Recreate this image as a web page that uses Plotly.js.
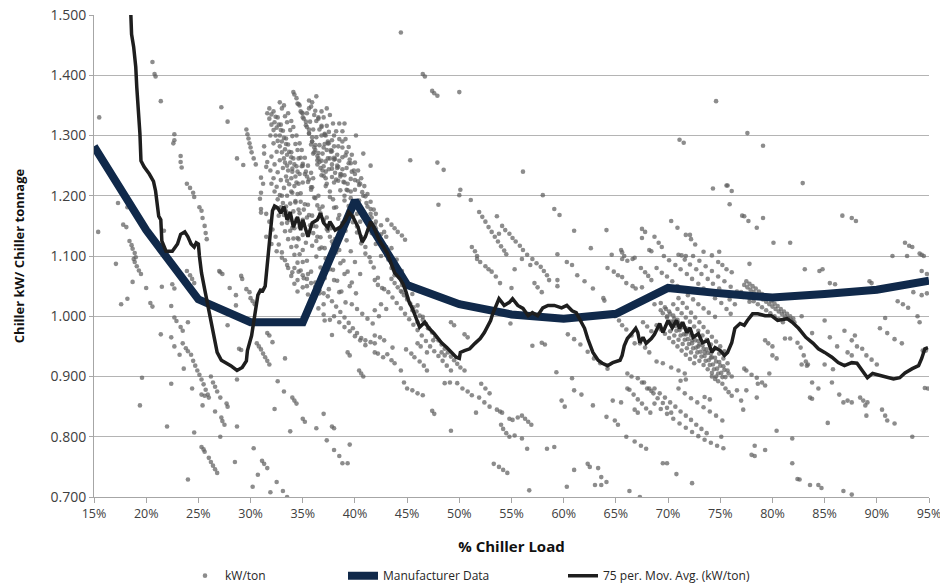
<!DOCTYPE html>
<html><head><meta charset="utf-8">
<script src="https://cdn.plot.ly/plotly-3.0.1.min.js"></script>
<style>html,body{margin:0;padding:0;background:#fff}#chart{width:940px;height:585px}</style>
</head><body><div id="chart"></div>
<script>
// ---- kW/ton scatter, [% chiller load, kW/ton] ----
const kwLow = [
[15.5,1.330],[15.4,1.140],[17.3,1.188],[18.2,1.181],[17.8,1.152],[18.1,1.148],[18.4,1.125],[18.6,1.118],[18.7,1.112],[18.9,1.105],[19.0,1.098],
[20.6,1.422],[20.8,1.402],[20.9,1.398],[21.4,1.357],[22.7,1.302],[22.7,1.292],[22.6,1.287],[23.3,1.266],[23.3,1.256],[23.4,1.247],[23.9,1.220],[24.2,1.213],[24.5,1.205],[24.6,1.198],[25.1,1.181],[25.3,1.175],[25.4,1.163],[25.6,1.150],[25.7,1.138],[25.8,1.128],[21.7,1.142],
[17.1,1.087],[18.8,1.095],[18.9,1.090],[19.1,1.083],[19.3,1.076],[19.5,1.070],[18.7,1.057],[20.0,1.047],[18.2,1.029],[17.6,1.020],[20.4,1.022],[20.6,1.016],[21.5,1.049],[22.5,1.053],[22.7,1.046],[22.4,1.017],[22.7,0.998],[22.9,0.992],[23.3,0.982],[23.5,0.976],[24.0,0.990],[21.4,0.970],[22.4,0.965],[22.7,0.950],[23.5,0.955],[23.8,0.947],[24.0,0.942],[24.3,0.936],[23.2,0.936],[23.6,0.913],[24.5,0.926],[24.7,0.918],[24.9,0.910],[25.1,0.903],[25.3,0.895],[25.5,0.887],[25.7,0.878],[25.9,0.870],[26.0,0.865],[24.4,0.880],[25.3,0.870],[25.6,0.868],[22.4,0.888],[19.6,0.898],[19.4,0.852],[22.0,0.817],[26.2,0.900],[26.4,0.890],[26.6,0.883],[26.8,0.875],[27.1,0.865],[25.4,0.852],[26.6,0.842],[27.7,0.855],[27.8,0.850],[27.2,0.832],[27.3,0.826],[27.5,0.820],[28.7,0.817],[24.6,0.807],[27.1,0.800],[25.3,0.783],[25.5,0.779],[25.6,0.775],[26.0,0.765],[26.2,0.758],[26.4,0.752],[26.6,0.746],[26.8,0.740],[24.0,0.729],[28.5,0.758],[30.3,0.781],[30.7,0.737],[30.2,0.717],
[23.9,1.075],[24.2,1.068],[24.4,1.062],[24.6,1.055],
[27.0,1.075],[27.1,1.073],[27.3,1.070],[29.1,1.067],[29.2,1.062],[28.0,1.047],[29.6,1.045],[29.9,1.040],[28.6,1.035],[28.6,1.018],[30.0,1.030],[30.2,1.025],[30.4,1.020],[27.8,0.985],[28.9,0.946],[29.1,0.944],[28.7,0.895],[30.6,0.955],[30.8,0.950],[31.0,0.945],
[27.2,1.347],[27.8,1.323],[29.6,1.310],[29.7,1.302],[29.8,1.295],[29.9,1.287],[30.0,1.280],[30.1,1.272],[30.3,1.262],[30.5,1.252],[28.7,1.262],[29.3,1.251],[31.3,1.282],[31.5,1.248],[31.0,1.230],[31.2,1.220],[31.0,1.205],[30.9,1.195],[31.0,1.178],[31.0,1.172]
];
const kwCluster = [
[31.6,1.337],[31.8,1.328],[32.0,1.318],[32.2,1.309],[32.4,1.300],[32.6,1.291],[32.8,1.282],[33.0,1.272],[33.2,1.262],[33.5,1.250],
[32.2,1.340],[32.4,1.331],[32.7,1.318],[32.9,1.309],[33.2,1.296],[33.4,1.286],[33.7,1.273],[33.9,1.264],[34.2,1.252],[34.5,1.240],
[32.6,1.330],[32.9,1.318],[33.1,1.308],[33.4,1.295],[33.6,1.285],[33.9,1.272],[34.1,1.262],[34.4,1.249],[34.7,1.236],[35.0,1.222],
[33.6,1.337],[33.9,1.324],[34.1,1.314],[34.4,1.300],[34.7,1.287],[34.9,1.276],[35.2,1.263],[35.5,1.250],[35.8,1.238],[36.0,1.229],
[34.1,1.372],[34.2,1.368],[34.5,1.353],[34.8,1.340],[35.0,1.330],[35.3,1.317],[35.6,1.303],[35.9,1.290],[36.2,1.276],[36.5,1.262],
[34.7,1.350],[35.0,1.337],[35.3,1.323],[35.6,1.310],[35.9,1.297],[36.2,1.284],[36.5,1.271],[36.8,1.258],[37.0,1.249],[37.2,1.240],
[35.4,1.337],[35.7,1.323],[36.0,1.310],[36.3,1.297],[36.6,1.284],[36.9,1.270],[37.2,1.257],[37.5,1.244],[37.8,1.231],[38.0,1.222],
[35.9,1.355],[36.2,1.341],[36.5,1.328],[36.8,1.314],[37.1,1.301],[37.4,1.287],[37.7,1.273],[38.0,1.260],[38.3,1.246],[38.6,1.232],
[36.5,1.330],[36.8,1.316],[37.1,1.303],[37.4,1.290],[37.7,1.276],[38.0,1.263],[38.3,1.250],[38.6,1.236],[38.9,1.223],[39.2,1.210],
[37.3,1.345],[37.6,1.334],[37.9,1.320],[38.2,1.307],[38.5,1.294],[38.8,1.280],[39.1,1.267],[39.4,1.254],[39.7,1.240],[40.0,1.226],
[31.9,1.300],[32.2,1.287],[32.5,1.273],[32.8,1.259],[33.1,1.246],[33.4,1.232],[33.7,1.219],[34.0,1.205],[34.3,1.191],[34.6,1.177],[35.0,1.160],
[31.3,1.270],[31.6,1.256],[31.9,1.242],[32.2,1.229],[32.5,1.215],[32.8,1.201],[33.1,1.188],[33.4,1.174],[33.7,1.160],[34.0,1.147],[34.5,1.130],
[32.0,1.220],[32.3,1.207],[32.6,1.194],[32.9,1.181],[33.2,1.168],[33.5,1.155],[33.8,1.142],[34.1,1.129],[34.4,1.116],[34.7,1.103],[35.0,1.090],[35.5,1.070],
[31.5,1.170],[31.8,1.157],[32.1,1.144],[32.4,1.132],[32.7,1.119],[33.0,1.106],[33.3,1.093],[33.6,1.080],[33.9,1.067],[34.2,1.054],[34.5,1.041],
[33.0,1.200],[33.4,1.182],[33.8,1.164],[34.2,1.146],[34.6,1.128],[35.0,1.110],[35.4,1.092],[35.8,1.074],[36.2,1.056],[36.6,1.038],[37.0,1.020],
[34.0,1.240],[34.4,1.222],[34.8,1.204],[35.2,1.186],[35.6,1.168],[36.0,1.150],[36.4,1.132],[36.8,1.114],[37.2,1.096],[37.6,1.078],[38.0,1.060],[38.5,1.040],
[35.0,1.250],[35.4,1.232],[35.8,1.214],[36.2,1.196],[36.6,1.178],[37.0,1.160],[37.4,1.142],[37.8,1.124],[38.2,1.106],[38.6,1.088],[39.0,1.070],[39.5,1.050],
[36.0,1.270],[36.4,1.252],[36.8,1.234],[37.2,1.216],[37.6,1.198],[38.0,1.180],[38.4,1.162],[38.8,1.144],[39.2,1.126],[39.6,1.108],[40.0,1.090],[40.5,1.070],
[37.0,1.280],[37.4,1.262],[37.8,1.245],[38.2,1.227],[38.6,1.209],[39.0,1.192],[39.4,1.174],[39.8,1.156],[40.2,1.139],[40.6,1.121],[41.0,1.104],[41.5,1.090],
[38.0,1.300],[38.4,1.282],[38.8,1.264],[39.2,1.246],[39.6,1.228],[40.0,1.210],[40.4,1.192],[40.8,1.174],[41.2,1.156],[41.6,1.138],[42.0,1.120],[42.5,1.100],
[38.8,1.290],[39.2,1.272],[39.6,1.254],[40.0,1.236],[40.4,1.218],[40.8,1.200],[41.2,1.182],[41.6,1.164],[42.0,1.146],[42.5,1.124],[43.0,1.102],[43.5,1.080],
[39.5,1.260],[39.9,1.242],[40.3,1.224],[40.7,1.206],[41.1,1.188],[41.5,1.170],[41.9,1.152],[42.3,1.134],[42.7,1.116],[43.2,1.094],[43.8,1.068],[44.5,1.040],
[40.5,1.220],[41.0,1.199],[41.5,1.178],[42.0,1.157],[42.5,1.136],[43.0,1.115],[43.5,1.094],[44.0,1.073],[44.5,1.052],[45.0,1.031],[45.5,1.010],[46.0,0.990],
[42.0,1.170],[42.5,1.151],[43.0,1.132],[43.5,1.113],[44.0,1.094],[44.5,1.075],[45.0,1.056],[45.5,1.037],[46.0,1.018],[46.5,0.999],[47.0,0.980],[47.5,0.960],
[43.5,1.062],[43.8,1.055],[44.1,1.048],[44.4,1.042],[44.7,1.035],[45.0,1.028],[45.3,1.021],[45.6,1.015],[45.9,1.008],[46.2,1.001],[46.5,0.994],[46.8,0.987],[47.1,0.980],[47.4,0.973],[47.7,0.966],[48.0,0.960],[48.3,0.953],[48.6,0.946],[48.9,0.940],[49.2,0.933],[49.5,0.927],[49.8,0.921],[50.1,0.915],[50.5,0.910],
[43.2,1.040],[43.6,1.031],[44.0,1.022],[44.4,1.013],[44.8,1.004],[45.2,0.995],[45.6,0.986],[46.0,0.977],[46.4,0.968],[46.8,0.959],[47.2,0.950],[47.6,0.942],[48.0,0.934],[48.4,0.926],[48.8,0.918],[49.2,0.910],
[34.2,1.080],[34.6,1.074],[35.0,1.068],[35.4,1.062],[35.8,1.055],[36.2,1.049],[36.6,1.043],[37.0,1.038],[37.4,1.033],[37.8,1.025],[38.2,1.016],[38.6,1.007],[39.0,0.998],[39.4,0.989],[39.8,0.980],[40.2,0.972],[40.6,0.964],[41.0,0.960],[41.5,0.957],[41.9,0.955],
[31.5,1.132],[32.0,1.120],[32.5,1.108],[33.0,1.097],[33.5,1.085],[34.0,1.073],[34.5,1.060],[35.0,1.048],[35.5,1.036],[36.0,1.024],[36.5,1.013],[37.0,1.003],[37.6,0.994],
[38.0,1.000],[38.5,0.990],[39.0,0.982],[39.5,0.975],[40.0,0.967],[40.5,0.960],[41.0,0.952],[39.7,1.020],[40.2,1.012],[40.7,1.004],[41.2,0.996],[41.7,0.988],
[36.3,1.365],[33.2,1.350],[32.8,1.355],[35.6,1.345],[39.0,1.320],[40.1,1.300],[40.8,1.270],[41.5,1.250],
[43.1,1.160],[43.5,1.152],[43.8,1.146],[44.1,1.140],[44.5,1.134],[44.8,1.127],[42.8,1.140],[45.3,1.259],[47.9,1.255],[48.5,1.243],[48.0,1.185],[50.1,1.210],[50.0,1.201],[51.1,1.193],
[44.4,1.471],[46.5,1.402],[46.7,1.398],[47.4,1.374],[47.6,1.370],[47.9,1.366],[50.0,1.372],
[41.9,1.060],[42.2,1.052],[42.8,1.045],[42.5,1.020],[43.0,1.012],[41.9,1.010],[42.3,1.000],
[41.9,0.940],[42.2,0.938],[42.7,0.932],[43.1,0.937],[43.5,0.927],[43.8,0.922],[44.4,0.910],
[44.9,0.945],[45.4,0.938],[45.7,0.932],[46.2,0.925],[46.6,0.918],[46.9,0.910],
[41.9,0.968],[42.4,0.965],[42.8,0.960],[43.6,0.948],[46.0,0.955],[46.3,0.950],[46.9,0.940],[48.3,0.940],[48.6,0.935],
[44.7,0.890],[45.0,0.880],[45.5,0.877],[46.0,0.872],[46.5,0.869],[47.4,0.843],[47.6,0.838],[49.2,0.810],
[48.6,0.889],[49.1,0.890],[49.8,0.889],[49.2,0.990],[49.5,0.985],
[31.2,0.938],[31.4,0.932],[31.6,0.926],[31.8,0.920],[31.6,0.972],[31.8,0.968],[32.1,0.957],[33.3,0.930],[32.6,0.892],[33.2,0.875],[34.0,0.865],[34.2,0.860],[34.4,0.855],[32.3,0.846],[35.0,0.830],[35.2,0.825],[33.8,0.809],[36.3,0.814],[37.0,0.838],[37.8,0.817],[38.0,0.814],[37.3,0.794],[38.0,0.778],[38.5,0.768],[38.8,0.756],[39.3,0.756],[39.5,0.787],[37.1,0.993],[37.8,0.969],[39.3,0.940],[39.5,0.935],[40.4,0.910],[40.6,0.905],[40.8,0.900],[31.1,0.760],[31.3,0.755],[31.6,0.748],[31.9,0.708],[32.5,0.725],[33.1,0.710],[33.5,0.700]
];
const kwClusterFill = [
[31.8,1.345],[32.0,1.335],[32.3,1.322],[32.5,1.313],[32.8,1.300],[33.0,1.290],[33.3,1.277],[33.5,1.268],[33.8,1.255],[34.0,1.245],[34.3,1.232],[34.6,1.220],
[33.0,1.345],[33.3,1.332],[33.5,1.322],[33.8,1.309],[34.0,1.299],[34.3,1.286],[34.5,1.276],[34.8,1.263],[35.0,1.253],[35.3,1.240],[35.6,1.227],[35.9,1.214],
[34.4,1.362],[34.6,1.352],[34.9,1.338],[35.1,1.328],[35.4,1.314],[35.6,1.304],[35.9,1.290],[36.1,1.280],[36.4,1.266],[36.6,1.256],[36.9,1.242],[37.2,1.229],
[35.6,1.358],[35.8,1.348],[36.1,1.334],[36.3,1.324],[36.6,1.310],[36.8,1.300],[37.1,1.286],[37.3,1.276],[37.6,1.262],[37.8,1.252],[38.1,1.238],[38.4,1.225],
[36.8,1.340],[37.0,1.330],[37.3,1.316],[37.5,1.306],[37.8,1.292],[38.0,1.282],[38.3,1.268],[38.5,1.258],[38.8,1.244],[39.0,1.234],[39.3,1.220],[39.6,1.207],
[32.0,1.265],[32.3,1.252],[32.6,1.239],[32.9,1.226],[33.2,1.213],[33.5,1.200],[33.8,1.187],[34.1,1.174],[34.4,1.161],[34.7,1.148],[35.0,1.135],[35.3,1.122],
[33.3,1.255],[33.6,1.242],[33.9,1.229],[34.2,1.216],[34.5,1.203],[34.8,1.190],[35.1,1.177],[35.4,1.164],[35.7,1.151],[36.0,1.138],[36.3,1.125],[36.6,1.112],
[34.6,1.262],[34.9,1.249],[35.2,1.236],[35.5,1.223],[35.8,1.210],[36.1,1.197],[36.4,1.184],[36.7,1.171],[37.0,1.158],[37.3,1.145],[37.6,1.132],[37.9,1.119],
[35.8,1.285],[36.1,1.272],[36.4,1.259],[36.7,1.246],[37.0,1.233],[37.3,1.220],[37.6,1.207],[37.9,1.194],[38.2,1.181],[38.5,1.168],[38.8,1.155],[39.1,1.142],
[37.2,1.300],[37.5,1.287],[37.8,1.274],[38.1,1.261],[38.4,1.248],[38.7,1.235],[39.0,1.222],[39.3,1.209],[39.6,1.196],[39.9,1.183],[40.2,1.170],[40.5,1.157],
[32.4,1.180],[32.7,1.167],[33.0,1.154],[33.3,1.141],[33.6,1.128],[33.9,1.115],[34.2,1.102],[34.5,1.089],[34.8,1.076],[35.1,1.063],[35.4,1.050],
[33.5,1.225],[33.9,1.207],[34.3,1.189],[34.7,1.171],[35.1,1.153],[35.5,1.135],[35.9,1.117],[36.3,1.099],[36.7,1.081],[37.1,1.063],[37.5,1.045],
[38.5,1.320],[38.8,1.307],[39.1,1.294],[39.4,1.281],[39.7,1.268],[40.0,1.255],[40.3,1.242],[40.6,1.229],[40.9,1.216],[41.2,1.203],[41.5,1.190],[41.8,1.177],
[39.0,1.200],[39.4,1.183],[39.8,1.166],[40.2,1.149],[40.6,1.132],[41.0,1.115],[41.4,1.098],[41.8,1.081],[42.2,1.064],[42.6,1.047],
[36.5,1.200],[36.9,1.182],[37.3,1.164],[37.7,1.146],[38.1,1.128],[38.5,1.110],[38.9,1.092],[39.3,1.074],[39.7,1.056],[40.1,1.038],
[35.5,1.185],[35.9,1.167],[36.3,1.149],[36.7,1.131],[37.1,1.113],[37.5,1.095],[37.9,1.077],[38.3,1.059],[38.7,1.041],[39.1,1.023]
];
const kwMid = [
[50.3,0.880],[50.8,0.875],[51.2,0.869],[52.1,0.888],[52.5,0.880],[52.9,0.872],[51.9,0.865],[52.4,0.857],[52.9,0.850],[51.6,0.840],[53.6,0.845],[53.9,0.842],[54.1,0.840],[54.0,0.820],[54.2,0.813],[54.5,0.806],[54.8,0.830],[55.1,0.828],[55.6,0.832],[56.0,0.835],[56.3,0.830],[56.6,0.825],[56.9,0.820],[54.8,0.800],[55.3,0.802],[56.0,0.797],[56.5,0.780],[58.4,0.780],[59.1,0.783],[53.3,0.755],[53.8,0.750],[54.2,0.745],[54.6,0.740],[56.7,0.711],[60.3,0.717],[61.0,0.745],[62.3,0.755],[62.5,0.750],[63.3,0.748],[63.6,0.733],[63.0,0.720],[63.6,0.720],[64.1,0.725],[66.3,0.710],[67.3,0.700],[59.8,0.860],[60.1,0.850],[61.0,0.877],[61.7,0.870],[62.8,0.852],[64.1,0.833],[64.9,0.827],[65.2,0.820],[64.7,0.860],[65.5,0.857],[66.0,0.800],[66.8,0.792],[67.4,0.785],[67.9,0.780],[60.8,0.897],[59.3,0.907],[66.1,0.905],[66.5,0.900],[67.1,0.897],[67.5,0.890],[68.0,0.880],[68.4,0.876],[66.8,0.845],[67.1,0.840],[66.1,0.880],
[50.5,0.970],[50.8,0.965],[57.0,0.951],[57.9,0.956],[58.2,0.953],[54.9,0.988],
[51.9,1.173],[52.2,1.165],[52.5,1.157],[52.8,1.148],[53.1,1.140],[53.4,1.132],[53.7,1.124],[54.0,1.116],[54.3,1.109],[54.5,1.103],
[54.1,1.150],[54.4,1.143],[54.8,1.137],[55.1,1.130],[55.4,1.124],[55.8,1.117],[56.1,1.110],[56.5,1.102],
[53.6,1.166],[53.8,1.137],[51.2,1.115],[51.5,1.108],[51.7,1.100],
[56.1,1.240],[58.0,1.201],[59.1,1.178],[59.6,1.168],[61.0,1.142],[64.1,1.143],[62.6,1.113],[64.6,1.102],[65.5,1.110],[65.6,1.106],[65.8,1.100],[67.5,1.145],[67.8,1.140],[67.5,1.130],[68.2,1.110],[68.4,1.108],[59.4,1.103],
[51.7,1.095],[52.0,1.090],[52.5,1.083],[52.8,1.078],[53.1,1.074],[53.5,1.066],[53.9,1.055],[55.3,1.078],
[56.0,1.095],[56.8,1.085],[57.0,1.095],[57.4,1.088],[57.8,1.082],[58.1,1.075],[58.4,1.068],[58.6,1.060],
[59.4,1.060],[59.4,1.050],[61.3,1.068],[62.0,1.058],[62.8,1.046],[57.2,1.055],[57.5,1.048],[57.9,1.040],[55.0,1.047],[60.3,1.090],[60.8,1.085],[64.2,1.080],[64.8,1.074],[65.2,1.068],[65.6,1.065],
[65.6,1.095],[66.1,1.092],[66.6,1.095],[66.8,1.097],[67.4,1.080],[67.8,1.073],[68.1,1.067],[68.4,1.060],[66.0,1.055],[66.6,1.050],[66.9,1.046],[67.5,1.048],[63.8,1.030],[63.9,1.026],
[60.4,0.970],[61.0,0.962],[61.6,0.953],[62.3,0.941],[62.9,0.930],[63.5,0.922],[64.2,0.913],
[64.9,1.000],[65.3,0.993],[65.6,0.985],[66.0,0.978],[66.5,0.968],[66.8,0.955],
[67.6,0.990],[68.0,0.983],[68.4,0.975],[67.3,0.955],[67.8,0.948],[68.2,0.940],
[67.7,0.890],[68.2,0.880],[68.6,0.872],[66.3,0.878],[66.7,0.870],[67.1,0.862],[67.5,0.855],[67.9,0.847],[68.3,0.840],
[68.7,1.132],[69.1,1.122],[69.4,1.115]
];
const kwHigh = [
[68.9,1.080],[69.4,1.072],[69.9,1.066],[70.4,1.058],[70.9,1.050],[71.4,1.043],[71.9,1.035],[72.4,1.028],[72.9,1.020],[73.4,1.013],[73.9,1.006],[74.5,0.999],
[69.6,1.100],[70.1,1.093],[70.7,1.085],[71.2,1.078],[71.8,1.070],[72.3,1.062],[72.9,1.054],[73.4,1.046],[74.0,1.038],[74.5,1.030],[75.1,1.022],[75.6,1.012],[76.0,1.004],
[71.0,1.102],[71.6,1.094],[72.1,1.086],[72.7,1.078],[73.2,1.070],[73.8,1.062],[74.3,1.054],[74.9,1.046],[75.4,1.037],[75.9,1.028],[76.4,1.020],
[72.4,1.100],[73.0,1.092],[73.6,1.083],[74.2,1.075],[74.8,1.066],[75.4,1.058],[76.0,1.049],[76.6,1.041],[77.2,1.032],[77.8,1.024],
[77.3,1.052],[77.6,1.048],[77.9,1.044],[78.2,1.040],[78.5,1.036],[78.8,1.032],[79.1,1.028],[79.4,1.024],[79.7,1.020],[80.0,1.016],[80.3,1.012],[80.6,1.008],[80.9,1.004],[81.2,1.000],[81.5,0.997],[81.8,0.994],[82.1,0.990],
[77.0,1.040],[77.4,1.035],[77.8,1.030],[78.2,1.025],[78.6,1.020],[79.0,1.015],[79.4,1.010],[79.8,1.005],[80.2,1.000],[80.6,0.995],[81.0,0.990],
[77.5,1.058],[77.8,1.054],[78.1,1.050],[78.4,1.046],[78.7,1.041],[79.0,1.037],[79.3,1.033],[79.6,1.029],[79.9,1.025],[80.2,1.021],[80.5,1.017],[80.8,1.012],[81.1,1.008],[81.4,1.004],[81.7,1.000],[82.0,0.996],
[68.7,1.020],[69.3,1.010],[69.9,1.000],[70.5,0.990],[71.1,0.980],[71.7,0.970],[72.3,0.960],[72.9,0.950],[73.5,0.940],[74.1,0.931],
[69.3,1.022],[69.7,1.015],[70.1,1.008],[70.5,1.001],[70.9,0.994],[71.3,0.987],[71.7,0.980],[72.1,0.973],[72.5,0.966],[72.9,0.959],[73.3,0.952],[73.7,0.945],[74.1,0.938],[74.5,0.931],[74.9,0.924],[75.3,0.917],[75.7,0.910],[76.1,0.900],
[69.5,1.005],[69.9,0.998],[70.3,0.991],[70.7,0.984],[71.1,0.977],[71.5,0.970],[71.9,0.962],[72.3,0.955],[72.7,0.948],[73.1,0.941],[73.5,0.934],[73.9,0.927],[74.3,0.920],[74.7,0.913],[75.1,0.906],[75.5,0.899],
[70.0,0.990],[70.4,0.983],[70.8,0.976],[71.2,0.968],[71.6,0.961],[72.0,0.954],[72.4,0.947],[72.8,0.940],[73.2,0.933],[73.6,0.926],[74.0,0.919],[74.4,0.912],[74.8,0.905],[75.2,0.899],
[70.5,1.020],[70.9,1.012],[71.3,1.005],[71.7,0.998],[72.1,0.991],[72.5,0.983],[72.9,0.976],[73.3,0.968],[73.7,0.961],[74.1,0.953],[74.5,0.946],[74.9,0.938],[75.3,0.930],[75.7,0.922],
[69.8,1.012],[70.2,1.004],[70.6,0.996],[71.0,0.989],[71.4,0.982],[71.8,0.975],[72.2,0.968],[72.6,0.960],[73.0,0.953],[73.4,0.946],[73.8,0.939],[74.2,0.932],[74.6,0.925],[75.0,0.918],[75.4,0.911],[75.8,0.905],
[70.2,0.975],[70.6,0.968],[71.0,0.961],[71.4,0.954],[71.8,0.947],[72.2,0.940],[72.6,0.933],[73.0,0.926],[73.4,0.919],[73.8,0.912],[74.2,0.906],[74.6,0.900],
[71.0,1.030],[71.4,1.022],[71.8,1.014],[72.2,1.006],[72.6,0.998],[73.0,0.990],[73.4,0.982],[73.8,0.974],[74.2,0.966],[74.6,0.958],[75.0,0.950],[75.4,0.942],
[68.9,0.985],[69.3,0.978],[69.7,0.971],[70.1,0.964],[70.5,0.957],[70.9,0.950],[71.3,0.943],[71.7,0.936],[72.1,0.929],[72.5,0.922],
[68.7,0.880],[69.2,0.872],[69.7,0.865],[70.2,0.857],[70.7,0.850],[71.2,0.842],[71.7,0.835],[72.2,0.828],[72.7,0.820],[73.2,0.813],[73.7,0.806],
[68.7,0.855],[69.3,0.846],[69.9,0.838],[70.5,0.830],[71.1,0.822],[71.7,0.815],[72.3,0.808],[72.9,0.801],[73.5,0.795],[74.1,0.790],[74.7,0.785],[75.3,0.781],
[71.0,0.880],[71.6,0.872],[72.2,0.864],[72.8,0.857],[73.4,0.849],[74.0,0.842],[74.6,0.835],[75.2,0.827],
[68.9,0.925],[69.5,0.922],[70.3,0.915],[71.0,0.910],[71.6,0.905],[71.2,0.893],[71.7,0.895],[73.5,0.866],[74.0,0.862],
[69.0,0.864],[69.5,0.856],[69.9,0.848],[70.3,0.840],
[77.8,1.087],[74.8,1.090],[75.2,1.085],[75.6,1.078],[76.1,1.073],[83.1,1.078],[84.8,1.078],[84.5,1.075],[85.5,1.055],[86.0,1.053],[89.3,1.058],[89.5,1.055],[87.1,1.040],[85.0,0.993],[82.8,1.000],[83.8,0.972],[85.5,0.965],[86.2,0.950],[86.9,0.976],[87.6,0.960],[88.1,0.950],[88.6,0.946],[87.2,0.940],[87.6,0.935],[87.9,0.968],[89.0,0.935],[89.5,0.928],[90.0,0.920],[85.0,0.920],[85.8,0.912],[90.8,0.997],[90.3,0.980],[91.0,0.972],[91.7,0.962],[92.4,0.955],[93.0,1.014],[93.9,1.000],[94.1,0.990],[92.0,1.025],[92.5,1.020],[93.5,1.040],[94.3,1.035],[94.8,1.038],[94.3,1.075],[94.8,1.070],[94.4,0.943],[94.7,0.943],[94.6,0.881],[94.9,0.880],[93.4,0.800],[90.5,0.845],[90.8,0.835],[91.0,0.827],[91.7,0.822],[88.4,0.865],[88.7,0.860],[88.9,0.852],[89.1,0.857],[89.0,0.835],[87.2,0.860],[87.6,0.857],[83.6,0.865],[83.8,0.863],[85.7,0.890],[86.4,0.870],[86.8,0.857],[83.8,0.890],[84.4,0.880],[82.8,0.920],[83.3,0.918],[85.3,0.823],[80.4,0.810],[81.9,0.797],[78.3,0.785],[79.3,0.778],[78.0,0.770],[78.3,0.768],[81.9,0.756],[82.4,0.730],[82.6,0.729],[83.6,0.720],[84.4,0.720],[84.7,0.715],[86.8,0.710],[87.6,0.704],[69.5,0.756],[69.9,0.756],[70.8,0.738],[72.3,0.723],[75.1,0.800],[79.7,0.905],[78.6,0.888],[79.3,0.885],[76.6,0.877],[77.5,0.877],[77.0,0.860],[77.2,0.845],[78.5,0.865],[75.2,0.888],[75.5,0.880],[75.8,0.874],[76.1,0.868],[74.2,0.900],[74.5,0.896],[74.8,0.892],[77.3,0.913],[77.5,0.910],[78.0,0.903],[78.5,0.898],[79.0,0.890],[80.0,0.935],[80.4,0.930],[82.4,0.956],[82.7,0.948],[83.0,0.935],[83.2,0.925],[83.4,0.920],[81.2,0.963],[81.7,0.963],[79.3,0.960],[79.6,0.955],[80.0,0.950],
[74.6,1.357],[77.6,1.304],[71.1,1.293],[71.5,1.288],[79.1,1.283],[74.3,1.212],[75.6,1.217],[75.7,1.217],[76.1,1.208],[75.9,1.186],[82.9,1.221],[77.1,1.167],[77.3,1.166],[77.7,1.158],[79.1,1.163],[78.5,1.147],[70.3,1.158],[70.9,1.147],[71.7,1.135],[72.1,1.135],[72.2,1.128],[72.6,1.119],[73.4,1.107],[74.2,1.101],[74.9,1.107],[71.3,1.101],[71.7,1.100],[80.1,1.122],[81.7,1.122],[86.7,1.167],[87.6,1.163],[88.0,1.158],[92.7,1.122],[93.1,1.117],[93.4,1.115],[91.5,1.100],[92.9,1.100],[94.1,1.104],[94.3,1.102],[94.5,1.100]
];

// ---- Manufacturer data ----
const mfrLoad = [15,20,25,30,35,40,45,50,55,60,65,70,75,80,85,90,95];
const mfrKw   = [1.282,1.143,1.028,0.990,0.990,1.192,1.052,1.020,1.003,0.996,1.004,1.047,1.038,1.031,1.037,1.044,1.059];

// ---- 75 per. moving average ----
const maLoad = [18.4,18.5,18.6,18.8,19.0,19.1,19.3,19.4,19.5,19.8,20.3,20.7,20.9,21.1,21.2,21.4,21.45,21.5,21.9,22.5,23.0,23.3,23.7,24.0,24.3,24.6,24.8,25.0,25.1,25.3,25.6,25.9,26.2,26.5,26.8,27.2,27.7,28.1,28.7,29.2,29.6,29.7,30.1,30.3,30.5,30.7,31.0,31.1,31.4,31.5,31.6,31.7,31.9,32.1,32.3,
32.6,32.9,33.2,33.5,33.8,34.1,34.5,34.8,35.0,35.5,35.9,36.4,36.7,37.0,37.4,37.6,38.1,38.6,39.1,39.4,39.8,40.3,40.7,41.0,41.5,41.8,42.3,43.1,43.8,44.3,44.6,44.9,45.2,45.5,45.9,46.2,46.7,47.1,47.6,48.3,48.8,49.2,49.7,50.0,50.1,50.5,51.0,51.5,52.0,52.4,52.7,53.0,53.2,53.6,53.8,54.3,54.8,55.1,55.6,56.1,56.6,57.0,57.5,58.0,58.5,59.1,59.8,60.3,60.8,61.2,61.7,62.0,62.3,62.8,63.3,63.7,64.2,64.7,65.4,65.6,65.8,66.1,66.5,66.9,67.1,67.3,67.6,67.9,68.4,68.7,69.2,69.5,70.0,70.4,70.8,71.1,71.4,71.8,72.1,72.4,72.9,73.3,73.8,74.2,74.5,75.0,75.4,75.7,76.1,76.4,76.9,77.3,77.6,78.1,78.6,79.3,79.9,80.5,81.4,81.9,82.5,83.2,83.9,84.4,85.0,85.7,86.3,86.9,87.6,88.1,88.6,89.1,89.6,90.3,91.0,91.6,92.2,92.7,93.4,94.0,94.3,94.6,94.9];
const maKw = [1.560,1.500,1.468,1.447,1.414,1.380,1.336,1.303,1.258,1.248,1.236,1.224,1.208,1.186,1.166,1.160,1.142,1.125,1.108,1.108,1.120,1.136,1.140,1.132,1.120,1.115,1.122,1.120,1.100,1.072,1.045,1.018,0.990,0.962,0.940,0.927,0.922,0.918,0.910,0.915,0.926,0.943,0.968,0.993,1.018,1.035,1.045,1.040,1.050,1.067,1.088,1.100,1.148,1.175,1.183,
1.180,1.171,1.182,1.160,1.173,1.148,1.165,1.143,1.160,1.132,1.155,1.160,1.171,1.155,1.147,1.157,1.143,1.148,1.160,1.173,1.165,1.148,1.123,1.132,1.157,1.148,1.127,1.105,1.072,1.062,1.054,1.040,1.023,1.013,0.996,0.982,0.990,0.980,0.971,0.956,0.948,0.940,0.932,0.930,0.940,0.943,0.946,0.955,0.963,0.973,0.982,0.993,1.004,1.020,1.029,1.018,1.023,1.029,1.018,1.013,1.001,1.006,1.001,1.014,1.018,1.018,1.014,1.018,1.009,1.006,0.990,0.980,0.963,0.940,0.927,0.922,0.918,0.923,0.927,0.935,0.951,0.963,0.971,0.980,0.973,0.956,0.965,0.955,0.963,0.970,0.988,0.973,0.993,0.981,0.993,0.980,0.990,0.973,0.981,0.965,0.971,0.956,0.960,0.940,0.948,0.943,0.935,0.940,0.956,0.980,0.988,0.985,0.993,1.004,1.004,1.001,1.001,0.993,0.996,0.990,0.980,0.965,0.955,0.946,0.940,0.932,0.923,0.918,0.923,0.922,0.910,0.898,0.905,0.902,0.898,0.896,0.898,0.906,0.913,0.918,0.930,0.946,0.948];

const yTicks = [0.7,0.8,0.9,1.0,1.1,1.2,1.3,1.4,1.5];
const xTicks = [15,20,25,30,35,40,45,50,55,60,65,70,75,80,85,90,95];

const allPts = kwLow.concat(kwCluster, kwClusterFill, kwMid, kwHigh);
const FONT = '"Open Sans", "Liberation Sans", sans-serif';

const traces = [
  {type:'scatter', mode:'markers', name:'kW/ton', x: allPts.map(p=>p[0]), y: allPts.map(p=>p[1]),
   marker:{size:4.6, color:'rgba(95,95,95,0.72)', line:{width:0}}, legend:'legend', hoverinfo:'x+y'},
  {type:'scatter', mode:'lines', name:'Manufacturer Data', x: mfrLoad, y: mfrKw,
   line:{color:'#10294a', width:8}, legend:'legend2'},
  {type:'scatter', mode:'lines', name:'75 per. Mov. Avg. (kW/ton)', x: maLoad, y: maKw,
   line:{color:'#1e1e1e', width:3.5}, legend:'legend3'}
];

const legBase = {orientation:'h', xref:'container', yref:'container', y:0.016, yanchor:'middle', xanchor:'left',
  bgcolor:'rgba(0,0,0,0)', borderwidth:0, font:{family:FONT, size:12, color:'#262626'}};

const layout = {
  width:940, height:585,
  margin:{l:94, r:11, t:15, b:88},
  paper_bgcolor:'#fff', plot_bgcolor:'#fff',
  font:{family:FONT, color:'#404040'},
  xaxis:{range:[15,95], tickvals:xTicks, ticktext:xTicks.map(v=>v+'%'), showgrid:false, zeroline:false,
    showline:true, linecolor:'#a6a6a6', linewidth:1, ticks:'outside', ticklen:5, tickcolor:'#a6a6a6',
    ticklabeloverflow:'allow',
    tickfont:{family:FONT, size:12.5, color:'#404040'},
    title:{text:'<b>% Chiller Load</b>', font:{family:FONT, size:15, color:'#111'}, standoff:20}, automargin:false},
  yaxis:{range:[0.7,1.5], tickvals:yTicks, tickformat:'.3f', showgrid:true, gridcolor:'#b4b4b4', gridwidth:1, zeroline:false,
    showline:true, linecolor:'#a6a6a6', linewidth:1, ticks:'outside', ticklen:4, tickcolor:'#a6a6a6',
    tickfont:{family:FONT, size:14, color:'#404040'},
    title:{text:'<b>Chiller kW/ Chiller tonnage</b>', font:{family:FONT, size:13, color:'#111'}, standoff:22}, automargin:false},
  showlegend:true,
  legend: Object.assign({}, legBase, {x:185/940}),
  legend2: Object.assign({}, legBase, {x:343/940}),
  legend3: Object.assign({}, legBase, {x:563/940})
};

Plotly.newPlot('chart', traces, layout, {displayModeBar:false, staticPlot:true});
</script>
</body></html>
